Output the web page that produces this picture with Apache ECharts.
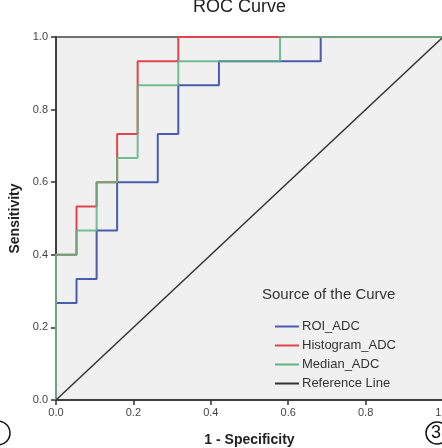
<!DOCTYPE html>
<html>
<head>
<meta charset="utf-8">
<script src="https://cdn.jsdelivr.net/npm/echarts@6/dist/echarts.min.js"></script>
<style>
  html, body { margin: 0; padding: 0; background: #fff; }
  #chart { width: 442px; height: 448px; }
</style>
</head>
<body>
<div id="chart"></div>
<script>
// ROC curve data (1 - specificity, sensitivity), step corners
const roiFpr = [0, 0, 0.053, 0.053, 0.105, 0.105, 0.158, 0.158, 0.263, 0.263, 0.316, 0.316, 0.421, 0.421, 0.684, 0.684, 1]
const roiTpr = [0, 0.267, 0.267, 0.333, 0.333, 0.467, 0.467, 0.6, 0.6, 0.733, 0.733, 0.867, 0.867, 0.933, 0.933, 1, 1]

const histFpr = [0, 0, 0.053, 0.053, 0.105, 0.105, 0.158, 0.158, 0.211, 0.211, 0.316, 0.316, 1]
const histTpr = [0, 0.4, 0.4, 0.533, 0.533, 0.6, 0.6, 0.733, 0.733, 0.933, 0.933, 1, 1]

const medFpr = [0, 0, 0.053, 0.053, 0.105, 0.105, 0.158, 0.158, 0.211, 0.211, 0.316, 0.316, 0.579, 0.579, 1]
const medTpr = [0, 0.4, 0.4, 0.467, 0.467, 0.6, 0.6, 0.667, 0.667, 0.867, 0.867, 0.933, 0.933, 1, 1]

const refFpr = [0, 1]
const refTpr = [0, 1]

const seriesNames = ['ROI_ADC', 'Histogram_ADC', 'Median_ADC', 'Reference Line']
const seriesColors = ['#4a5bb0', '#e0454f', '#5cb386', '#333333']

const pairs = (xs, ys) => xs.map((x, i) => [x, ys[i]])
const curves = [pairs(roiFpr, roiTpr), pairs(histFpr, histTpr), pairs(medFpr, medTpr), pairs(refFpr, refTpr)]

const font = 'Arial, "Liberation Sans", sans-serif'
const chart = echarts.init(document.getElementById('chart'))

chart.setOption({
  animation: false,
  grid: {
    left: 56, right: -1, top: 37, bottom: 48,
    outerBoundsMode: 'none',
    containLabel: false,
    show: true,
    backgroundColor: '#f0f0f0',
    borderColor: '#444',
    borderWidth: 1.5
  },
  xAxis: {
    type: 'value', min: 0, max: 1, interval: 0.2,
    axisLine: { show: true, lineStyle: { color: '#333', width: 1.5 } },
    axisTick: { show: true, length: 5, lineStyle: { color: '#333', width: 1.5 } },
    axisLabel: { color: '#444', fontSize: 11, fontFamily: font, margin: 7, formatter: v => v.toFixed(1) },
    splitLine: { show: false },
    name: '1 - Specificity',
    nameLocation: 'middle',
    nameGap: 33,
    nameTextStyle: { color: '#222', fontSize: 14, fontWeight: 'bold', fontFamily: font }
  },
  yAxis: {
    type: 'value', min: 0, max: 1, interval: 0.2,
    axisLine: { show: true, lineStyle: { color: '#333', width: 1.5 } },
    axisTick: { show: true, length: 5, lineStyle: { color: '#333', width: 1.5 } },
    axisLabel: { color: '#444', fontSize: 11, fontFamily: font, margin: 8, formatter: v => v.toFixed(1) },
    splitLine: { show: false },
    name: 'Sensitivity',
    nameLocation: 'middle',
    nameGap: 29,
    nameTextStyle: { color: '#222', fontSize: 14, fontWeight: 'bold', fontFamily: font }
  },
  legend: {
    data: seriesNames,
    orient: 'vertical',
    left: 270, top: 315,
    icon: 'rect',
    itemWidth: 24, itemHeight: 2,
    itemGap: 6,
    textStyle: { color: '#333', fontSize: 13, fontFamily: font, padding: [0, 0, 0, -2] }
  },
  graphic: [
    { type: 'text', left: 193, top: -2, style: { text: 'ROC Curve', fill: '#222', font: '18px ' + font } },
    { type: 'text', left: 262, top: 287, style: { text: 'Source of the Curve', fill: '#333', font: '15px ' + font } },
    { type: 'circle', shape: { cx: -2, cy: 433, r: 12 }, style: { fill: 'none', stroke: '#111', lineWidth: 1.5 } },
    { type: 'circle', shape: { cx: 437, cy: 433, r: 11 }, style: { fill: 'none', stroke: '#111', lineWidth: 1.5 } },
    { type: 'text', left: 431, top: 424, style: { text: '3', fill: '#111', font: '18px ' + font } }
  ],
  series: curves.map((d, i) => ({
    name: seriesNames[i],
    type: 'line',
    data: d,
    symbol: 'none',
    color: seriesColors[i],
    lineStyle: { color: seriesColors[i], width: i === 3 ? 1.5 : 2, opacity: i === 2 ? 0.85 : 1 },
    z: i === 3 ? 5 : 2 + i
  }))
})
</script>
</body>
</html>
